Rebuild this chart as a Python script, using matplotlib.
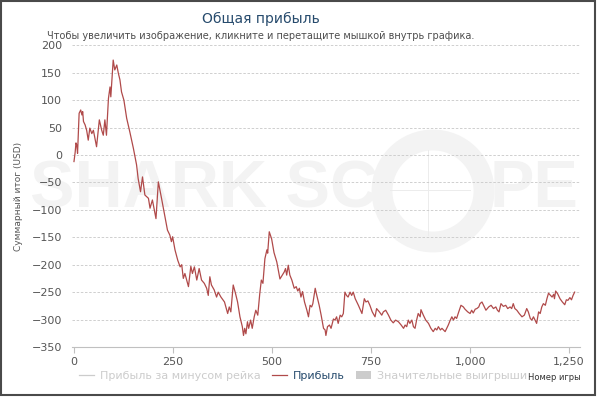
import matplotlib
matplotlib.use("Agg")
import matplotlib.pyplot as plt
from matplotlib.lines import Line2D
from matplotlib.patches import Patch, Circle, Rectangle

# cumulative profit
game_no = [0, 3, 5, 7, 9, 13, 17, 20, 22, 24, 28, 32, 36, 40, 45, 49, 53, 57, 64, 70,
           74, 78, 82, 87, 91, 93, 99, 103, 108, 112, 116, 120, 126, 133, 141, 150, 158, 162, 168, 173,
           179, 188, 192, 198, 207, 213, 221, 230, 236, 242, 246, 249, 255, 262, 268, 272, 276, 280, 289, 295,
           299, 304, 310, 316, 322, 329, 335, 339, 343, 347, 354, 360, 364, 371, 380, 388, 392, 396, 402, 408,
           413, 419, 425, 428, 431, 434, 438, 441, 446, 450, 455, 459, 464, 469, 473, 477, 482, 487, 489, 493,
           499, 505, 512, 516, 520, 526, 531, 534, 537, 541, 545, 550, 556, 561, 565, 569, 573, 577, 582, 588,
           592, 596, 600, 603, 609, 613, 619, 624, 630, 634, 636, 640, 645, 649, 655, 659, 663, 667, 672, 676,
           680, 684, 688, 692, 697, 701, 705, 710, 718, 727, 733, 737, 742, 747, 753, 760, 764, 771, 777, 781,
           787, 794, 800, 806, 812, 819, 826, 832, 836, 840, 844, 848, 853, 857, 861, 865, 869, 874, 876, 882,
           888, 895, 901, 907, 912, 916, 920, 925, 929, 933, 937, 941, 945, 950, 954, 958, 962, 966, 970, 977,
           983, 987, 994, 1000, 1004, 1008, 1013, 1017, 1022, 1025, 1030, 1034, 1040, 1047, 1053, 1059, 1065, 1069, 1073, 1078,
           1084, 1090, 1095, 1101, 1105, 1109, 1113, 1118, 1124, 1131, 1137, 1143, 1147, 1152, 1156, 1160, 1164, 1168, 1173, 1177,
           1181, 1185, 1190, 1194, 1198, 1203, 1207, 1211, 1213, 1216, 1221, 1227, 1233, 1239, 1243, 1247, 1252, 1256, 1260, 1264]
profit = [-12, 5, 22, 18, 3, 76, 82, 73, 79, 61, 55, 45, 27, 49, 39, 45, 30, 15, 64, 45,
          36, 64, 36, 103, 124, 106, 173, 155, 164, 149, 137, 115, 100, 67, 42, 12, -18, -43, -67, -40,
          -73, -79, -97, -82, -116, -49, -79, -114, -137, -146, -158, -149, -173, -192, -204, -200, -225, -216, -240, -203,
          -216, -204, -228, -207, -228, -234, -243, -256, -222, -237, -246, -259, -250, -259, -268, -289, -277, -286, -237, -253,
          -268, -295, -313, -329, -316, -326, -304, -316, -301, -316, -295, -283, -292, -253, -228, -234, -189, -173, -179, -140,
          -153, -178, -195, -210, -226, -219, -213, -207, -219, -201, -219, -228, -243, -240, -248, -243, -259, -249, -268, -283,
          -295, -274, -277, -271, -243, -256, -274, -292, -316, -319, -329, -313, -310, -316, -299, -301, -295, -307, -292, -295,
          -289, -250, -256, -259, -250, -256, -250, -262, -274, -289, -262, -268, -266, -274, -286, -295, -280, -286, -292, -286,
          -283, -292, -301, -306, -301, -304, -310, -316, -310, -313, -301, -307, -301, -313, -316, -301, -289, -295, -282, -292,
          -301, -307, -316, -322, -316, -319, -313, -319, -316, -319, -322, -316, -310, -301, -295, -301, -295, -298, -289, -274,
          -277, -281, -286, -289, -283, -288, -281, -280, -277, -271, -268, -274, -283, -277, -274, -280, -277, -283, -286, -271,
          -276, -274, -280, -277, -280, -271, -280, -283, -289, -295, -292, -280, -286, -298, -301, -295, -301, -307, -286, -289,
          -277, -271, -274, -262, -252, -256, -259, -254, -262, -248, -253, -262, -268, -273, -264, -265, -260, -264, -256, -250]

x_ticks = [0, 250, 500, 750, 1000, 1250]
x_labels = ["0", "250", "500", "750", "1,000", "1,250"]
y_ticks = list(range(-350, 201, 50))

fig = plt.figure(figsize=(6, 3.97), dpi=100)
ax = fig.add_axes([0.12, 0.126, 0.847, 0.760])
ax.set_zorder(1)

# faint watermark behind everything
wm = "#f3f3f3"
fig.text(30 / 600, 1 - 190 / 397, "SHARK SC", fontsize=48, fontweight="bold",
         family="Liberation Sans", color=wm, ha="left", va="center", zorder=-1)
fig.text(578 / 600, 1 - 190 / 397, "PE", fontsize=48, fontweight="bold",
         family="Liberation Sans", color=wm, ha="right", va="center", zorder=-1)
ring = Circle((433, 397 - 191), 51, transform=None, fill=False, lw=15, ec=wm, zorder=-1)
fig.add_artist(ring)
fig.add_artist(Line2D([428, 428], [397 - 150, 397 - 235], transform=None, color="#ececec", lw=0.7, zorder=-1))
fig.add_artist(Line2D([390, 470], [397 - 190, 397 - 190], transform=None, color="#ececec", lw=0.7, zorder=-1))

ax.set_facecolor("none")
ax.plot(game_no, profit, color="#b04a4a", lw=0.9, zorder=3)

ax.set_xlim(-5, 1278)
ax.set_ylim(-350, 200)
ax.set_xticks(x_ticks)
ax.set_xticklabels(x_labels)
ax.set_yticks(y_ticks)
ax.yaxis.grid(True, color="#c8c8c8", lw=0.6, ls=(0, (3, 2)))
ax.set_axisbelow(True)
for s in ["top", "right", "left"]:
    ax.spines[s].set_visible(False)
ax.spines["bottom"].set_color("#c0c0c0")
ax.tick_params(axis="y", length=0, pad=7, labelsize=8, labelcolor="#555555")
ax.tick_params(axis="x", length=4, width=0.8, color="#c0c0c0", pad=3, labelsize=8, labelcolor="#555555")
ax.set_ylabel("Суммарный итог (USD)", fontsize=6.5, color="#555555", labelpad=6)

fig.text(261 / 600, 1 - 19 / 397, "Общая прибыль", fontsize=10, color="#274b6d",
         ha="center", va="center")
fig.text(261 / 600, 1 - 36 / 397,
         "Чтобы увеличить изображение, кликните и перетащите мышкой внутрь графика.",
         fontsize=7, color="#4d4d4d", ha="center", va="center")

handles = [Line2D([], [], color="#cccccc", lw=0.9),
           Line2D([], [], color="#b04a4a", lw=0.9),
           Patch(facecolor="#cccccc", edgecolor="none")]
labels = ["Прибыль за минусом рейка", "Прибыль", "Значительные выигрыши"]
leg = fig.legend(handles, labels, loc="center", bbox_to_anchor=(303 / 600, 1 - 376 / 397),
                 ncol=3, frameon=False, fontsize=8, handlelength=1.4, handletextpad=0.5,
                 columnspacing=1.0)
for t, c in zip(leg.get_texts(), ["#cccccc", "#274b6d", "#cccccc"]):
    t.set_color(c)

fig.text(581 / 600, 1 - 378 / 397, "Номер игры", fontsize=6, color="#333333",
         ha="right", va="center")

fig.add_artist(Rectangle((1, 2), 594, 394, transform=None, fill=False,
                         ec="#4a4a4a", lw=1.5))

fig.savefig("out.png", dpi=100)
